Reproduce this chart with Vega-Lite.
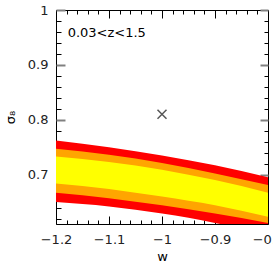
{
  "$schema": "https://vega.github.io/schema/vega-lite/v6.json",
  "width": 212,
  "height": 214,
  "autosize": "none",
  "padding": {"left": 56, "top": 10, "right": 5, "bottom": 38},
  "background": "white",
  "config": {
    "font": "DejaVu Sans",
    "view": {"stroke": "black", "strokeWidth": 1},
    "axis": {
      "domain": false,
      "grid": false,
      "labelFont": "DejaVu Sans",
      "labelFontSize": 13,
      "labelColor": "#222222",
      "labelFlush": false,
      "titleFont": "DejaVu Sans",
      "titleFontSize": 13,
      "titleFontWeight": "normal",
      "titleColor": "black",
      "format": "~g"
    }
  },
  "datasets": {
    "bands": [
      {"w": -1.2, "level": "3sigma", "lo": 0.650, "hi": 0.762},
      {"w": -1.1, "level": "3sigma", "lo": 0.642, "hi": 0.750},
      {"w": -1.0, "level": "3sigma", "lo": 0.629, "hi": 0.735},
      {"w": -0.9, "level": "3sigma", "lo": 0.612, "hi": 0.717},
      {"w": -0.8, "level": "3sigma", "lo": 0.589, "hi": 0.695},
      {"w": -1.2, "level": "2sigma", "lo": 0.667, "hi": 0.747},
      {"w": -1.1, "level": "2sigma", "lo": 0.657, "hi": 0.736},
      {"w": -1.0, "level": "2sigma", "lo": 0.644, "hi": 0.721},
      {"w": -0.9, "level": "2sigma", "lo": 0.629, "hi": 0.702},
      {"w": -0.8, "level": "2sigma", "lo": 0.612, "hi": 0.681},
      {"w": -1.2, "level": "1sigma", "lo": 0.684, "hi": 0.733},
      {"w": -1.1, "level": "1sigma", "lo": 0.674, "hi": 0.723},
      {"w": -1.0, "level": "1sigma", "lo": 0.660, "hi": 0.709},
      {"w": -0.9, "level": "1sigma", "lo": 0.644, "hi": 0.690},
      {"w": -0.8, "level": "1sigma", "lo": 0.623, "hi": 0.667}
    ],
    "fid": [{"w": -1.0, "s8": 0.81}],
    "note": [{"w": -1.178, "s8": 0.958, "text": "0.03<z<1.5"}]
  },
  "layer": [
    {
      "data": {"name": "bands"},
      "transform": [{"filter": "datum.level === '3sigma'"}],
      "mark": {"type": "area", "clip": true, "interpolate": "monotone", "color": "#ff0000"},
      "encoding": {
        "x": {"field": "w", "type": "quantitative", "scale": {"domain": [-1.2, -0.8], "nice": false, "zero": false},
          "axis": {"orient": "bottom", "title": "w", "titlePadding": 4, "labelPadding": 17, "tickSize": -8, "tickColor": "black", "tickWidth": 1,
            "values": [-1.2, -1.1, -1.0, -0.9, -0.8]}},
        "y": {"field": "lo", "type": "quantitative", "scale": {"domain": [0.61, 1.0], "nice": false, "zero": false},
          "axis": {"orient": "left", "title": "σ₈", "titlePadding": 10, "labelPadding": 17, "tickSize": -9, "tickColor": "#808080", "tickWidth": 2,
            "values": [0.7, 0.8, 0.9, 1.0]}},
        "y2": {"field": "hi"}
      }
    },
    {
      "data": {"name": "bands"},
      "transform": [{"filter": "datum.level === '2sigma'"}],
      "mark": {"type": "area", "clip": true, "interpolate": "monotone", "color": "#ffa500"},
      "encoding": {
        "x": {"field": "w", "type": "quantitative",
          "axis": {"orient": "bottom", "title": null, "labels": false, "tickSize": -4, "tickColor": "black", "tickWidth": 1,
            "values": [-1.18,-1.16,-1.14,-1.12,-1.08,-1.06,-1.04,-1.02,-0.98,-0.96,-0.94,-0.92,-0.88,-0.86,-0.84,-0.82]}},
        "y": {"field": "lo", "type": "quantitative",
          "axis": {"orient": "left", "title": null, "labels": false, "tickSize": -5, "tickColor": "black", "tickWidth": 1,
            "values": [0.62,0.64,0.66,0.68,0.72,0.74,0.76,0.78,0.82,0.84,0.86,0.88,0.92,0.94,0.96,0.98]}},
        "y2": {"field": "hi"}
      }
    },
    {
      "data": {"name": "bands"},
      "transform": [{"filter": "datum.level === '1sigma'"}],
      "mark": {"type": "area", "clip": true, "interpolate": "monotone", "color": "#ffff00"},
      "encoding": {
        "x": {"field": "w", "type": "quantitative",
          "axis": {"orient": "top", "title": null, "labels": false, "tickSize": -8, "tickColor": "black", "tickWidth": 1,
            "values": [-1.2, -1.1, -1.0, -0.9, -0.8]}},
        "y": {"field": "lo", "type": "quantitative",
          "axis": {"orient": "right", "title": null, "labels": false, "tickSize": -8, "tickColor": "#808080", "tickWidth": 2,
            "values": [0.7, 0.8, 0.9, 1.0]}},
        "y2": {"field": "hi"}
      }
    },
    {
      "data": {"name": "fid"},
      "mark": {"type": "point", "shape": "M-1,-1L1,1M-1,1L1,-1", "size": 81, "filled": false, "stroke": "#111111", "strokeWidth": 1.5},
      "encoding": {
        "x": {"field": "w", "type": "quantitative",
          "axis": {"orient": "top", "title": null, "labels": false, "tickSize": -4, "tickColor": "black", "tickWidth": 1,
            "values": [-1.18,-1.16,-1.14,-1.12,-1.08,-1.06,-1.04,-1.02,-0.98,-0.96,-0.94,-0.92,-0.88,-0.86,-0.84,-0.82]}},
        "y": {"field": "s8", "type": "quantitative",
          "axis": {"orient": "right", "title": null, "labels": false, "tickSize": -4, "tickColor": "black", "tickWidth": 1,
            "values": [0.62,0.64,0.66,0.68,0.72,0.74,0.76,0.78,0.82,0.84,0.86,0.88,0.92,0.94,0.96,0.98]}}
      }
    },
    {
      "data": {"name": "note"},
      "mark": {"type": "text", "align": "left", "baseline": "middle", "font": "DejaVu Sans", "fontSize": 13, "color": "black"},
      "encoding": {
        "x": {"field": "w", "type": "quantitative", "axis": null},
        "y": {"field": "s8", "type": "quantitative", "axis": null},
        "text": {"field": "text"}
      }
    }
  ],
  "resolve": {"axis": {"x": "independent", "y": "independent"}}
}
